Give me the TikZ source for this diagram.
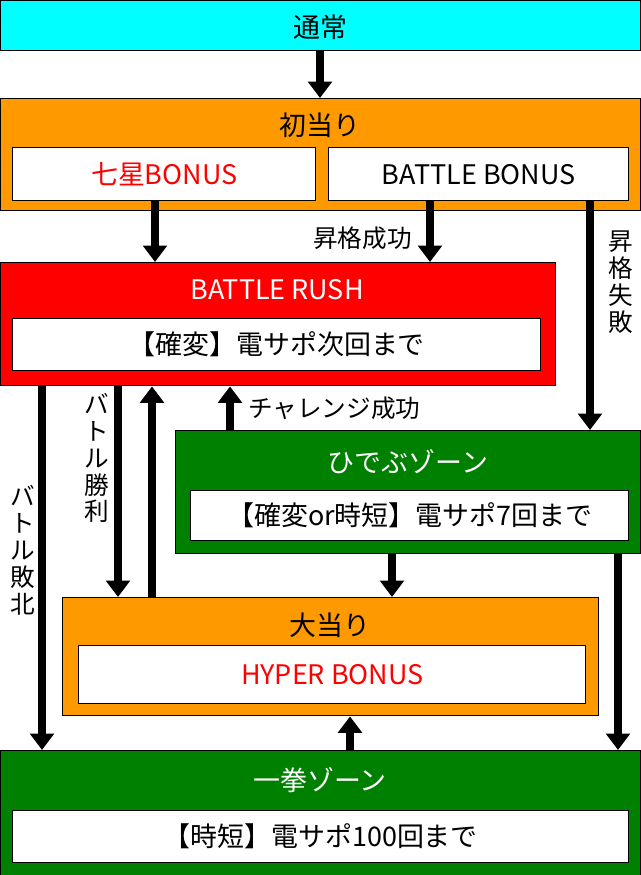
\documentclass[tikz,border=0pt]{standalone}
\usepackage{fontspec}
\setmainfont{Noto Sans CJK JP}
\usetikzlibrary{arrows.meta,positioning}
\definecolor{tsujo}{RGB}{0,255,255}
\definecolor{ora}{RGB}{255,153,0}
\definecolor{grn}{RGB}{0,128,0}
\definecolor{rd}{RGB}{255,0,0}
\tikzset{
  frame/.style={draw=black,line width=1.2pt,anchor=north west,inner sep=0pt},
  inbox/.style={frame,fill=white,font=\fontsize{23}{25}\selectfont},
  ttl/.style={font=\fontsize{23}{25}\selectfont,inner sep=0pt},
  flow/.style={line width=6pt,-{Triangle[length=14pt,width=20pt]}},
  lbl/.style={font=\fontsize{21}{23}\selectfont,inner sep=0pt},
  vlbl/.style={lbl,align=center,text width=1em}
}
\begin{document}
\begin{tikzpicture}[x=0.03cm,y=-0.03cm]
\useasboundingbox (0,0) rectangle (640,875);

% boxes
\node[frame,fill=tsujo,minimum width=19.2cm,minimum height=1.5cm] (tsujo) at (0,0) {};
\node[ttl] at (320,27) {通常};

\node[frame,fill=ora,minimum width=19.2cm,minimum height=3.36cm] (hatsu) at (0,98) {};
\node[ttl] at (320,125) {初当り};
\node[inbox,minimum width=9.09cm,minimum height=1.59cm,text=rd] (nanasei) at (12,147) {七星BONUS};
\node[inbox,minimum width=9cm,minimum height=1.59cm] (bb) at (328,147) {BATTLE BONUS};

\node[frame,fill=rd,minimum width=16.65cm,minimum height=3.69cm] (rush) at (0,262) {};
\node[ttl,text=white] at (277,290) {BATTLE RUSH};
\node[inbox,minimum width=15.84cm,minimum height=1.56cm] (rushin) at (12,318) {【確変】電サポ次回まで};

\node[frame,fill=grn,minimum width=13.95cm,minimum height=3.69cm] (hidebu) at (175,430) {};
\node[ttl,text=white] at (408,462) {ひでぶゾーン};
\node[inbox,minimum width=13.14cm,minimum height=1.5cm] (hidebuin) at (190,490) {【確変or時短】電サポ7回まで};

\node[frame,fill=ora,minimum width=16.08cm,minimum height=3.54cm] (oo) at (62,597) {};
\node[ttl] at (330,625) {大当り};
\node[inbox,minimum width=15.21cm,minimum height=1.74cm,text=rd] (hyper) at (78,645) {HYPER BONUS};

\node[frame,fill=grn,minimum width=19.2cm,minimum height=3.75cm] (ikken) at (0,750) {};
\node[ttl,text=white] at (320,780) {一拳ゾーン};
\node[inbox,minimum width=18.48cm,minimum height=1.56cm] (ikkenin) at (12,810) {【時短】電サポ100回まで};

% arrows
\draw[flow] (tsujo.south -| 320,0) -- (hatsu.north -| 320,0);
\draw[flow] (nanasei.south -| 155,0) -- (rush.north -| 155,0);
\draw[flow] (bb.south -| 430,0) -- (rush.north -| 430,0);
\draw[flow] (bb.south -| 590,0) -- (hidebu.north -| 590,0);
\draw[flow] (rush.south -| 42,0) -- (ikken.north -| 42,0);
\draw[flow] (rush.south -| 118,0) -- (oo.north -| 118,0);
\draw[flow] (oo.north -| 152,0) -- (rush.south -| 152,0);
\draw[flow] (hidebu.north -| 230,0) -- (rush.south -| 230,0);
\draw[flow] (hidebu.south -| 392,0) -- (oo.north -| 392,0);
\draw[flow] (hidebu.south -| 618,0) -- (ikken.north -| 618,0);
\draw[flow] (ikken.north -| 350,0) -- (oo.south -| 350,0);

% labels
\node[lbl,anchor=east] (l1) at (412,238) {昇格成功};
\node[vlbl] (l2) at (614,282) {昇\\格\\失\\敗};
\node[lbl,anchor=west] (l3) at (248,408) {チャレンジ成功};
\node[vlbl] (l4) at (90,458) {バ\\ト\\ル\\勝\\利};
\node[vlbl] (l5) at (16,550) {バ\\ト\\ル\\敗\\北};
\end{tikzpicture}
\end{document}
